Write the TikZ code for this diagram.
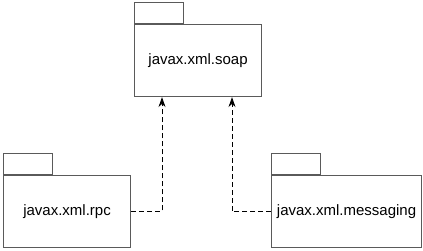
\documentclass[tikz,border=0pt]{standalone}
\usepackage{fontspec}
\setmainfont{Liberation Sans}
\usetikzlibrary{arrows.meta,calc}
\definecolor{pkgline}{HTML}{5A5A5A}
\begin{document}
\begin{tikzpicture}[x=1pt,y=-1pt,
  pkgbody/.style={draw=pkgline,line width=1.1pt,fill=white,minimum width=127pt,minimum height=72pt,inner sep=0pt,font=\fontsize{15}{18}\selectfont},
  pkgtab/.style={draw=pkgline,line width=1.1pt,fill=white,minimum width=49pt,minimum height=21pt,inner sep=0pt},
  dep/.style={dashed,dash pattern=on 5pt off 3pt,line width=0.9pt,-{Stealth[length=10pt,width=7pt]}}]
\useasboundingbox (0,0) rectangle (423,250);
% top package
\node[pkgtab,anchor=south west] (soaptab) at (134,24) {};
\node[pkgbody,anchor=north west] (soap) at (134,24) {javax.xml.soap};
% left package
\node[pkgtab,anchor=south west] (rpctab) at (3,175) {};
\node[pkgbody,anchor=north west] (rpc) at (3,175) {javax.xml.rpc};
% right package
\node[pkgtab,anchor=south west] (msgtab) at (271,175) {};
\node[pkgbody,anchor=north west,minimum width=150pt] (msg) at (271,175) {javax.xml.messaging};
% arrow targets
\coordinate (t1) at ($(soap.south west)+(28,0)$);
\coordinate (t2) at ($(soap.south west)+(98,0)$);
\draw[dep] (rpc.east) -| (t1);
\draw[dep] (msg.west) -| (t2);
\end{tikzpicture}
\end{document}
